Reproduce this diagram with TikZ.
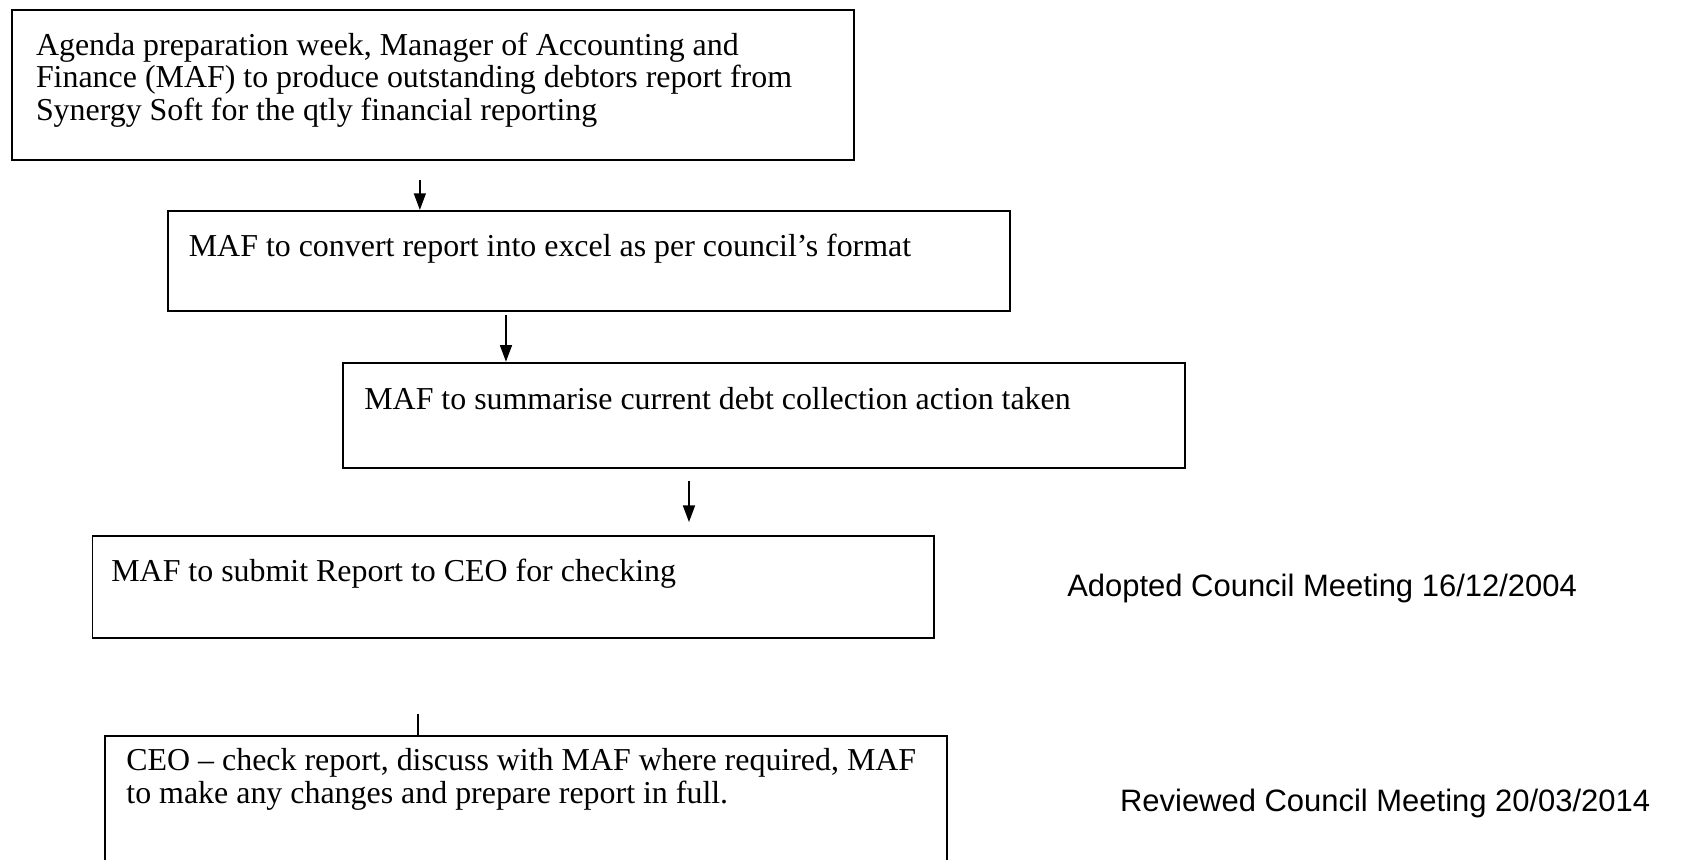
\documentclass[tikz,border=0pt]{standalone}
\usepackage{fontspec}
\setmainfont{Liberation Serif}
\newfontfamily\arialf{Liberation Sans}
\usetikzlibrary{arrows.meta}
\begin{document}
\begin{tikzpicture}[x=0.452pt,y=-0.452pt,
  box/.style={draw,line width=0.8pt,anchor=north west,inner sep=0pt,minimum width=353.5pt},
  txt/.style={anchor=base west,inner sep=0pt,align=left,font=\fontsize{13.4pt}{13.7pt}\selectfont},
  lbl/.style={anchor=base west,inner sep=0pt,font=\arialf\fontsize{13pt}{14pt}\selectfont},
  arr/.style={line width=0.8pt,-{Triangle[length=7pt,width=5pt]}},
  tickline/.style={line width=0.8pt}]
\clip (0,0) rectangle (1568,798);
\fill[white] (0,0) rectangle (1568,798);
% boxes
\node[box,minimum height=63.3pt] (b1) at (10,8) {};
\node[box,minimum height=42.0pt] (b2) at (155,195) {};
\node[box,minimum height=44.3pt] (b3) at (318,336) {};
\node[box,minimum height=42.9pt] (b4) at (85,497) {};
\node[box,minimum height=70pt] (b5) at (97,683) {};
% texts (base = baseline of the last line)
\node[txt] (t1) at (33,112) {Agenda preparation week, Manager of Accounting and\\Finance (MAF) to produce outstanding debtors report from\\Synergy Soft for the qtly financial reporting};
\node[txt] (t2) at (175,238) {MAF to convert report into excel as per council’s format};
\node[txt] (t3) at (338,380) {MAF to summarise current debt collection action taken};
\node[txt] (t4) at (103,540) {MAF to submit Report to CEO for checking};
\node[txt] (t5) at (117,746) {CEO – check report, discuss with MAF where required, MAF\\to make any changes and prepare report in full.};
% side labels
\node[lbl] (l1) at (991,554) {Adopted Council Meeting 16/12/2004};
\node[lbl] (l2) at (1040,754) {Reviewed Council Meeting 20/03/2014};
% connectors
\coordinate (a1) at (390,167);
\draw[arr] (a1) -- (a1 |- b2.north);
\coordinate (a2) at (470,293);
\draw[arr] (a2) -- (a2 |- b3.north);
\coordinate (a3) at (640,447);
\coordinate (a3e) at (640,485);
\draw[arr] (a3) -- (a3e);
\coordinate (c5) at (388,663);
\draw[tickline] (c5) -- (c5 |- b5.north);
\end{tikzpicture}
\end{document}
